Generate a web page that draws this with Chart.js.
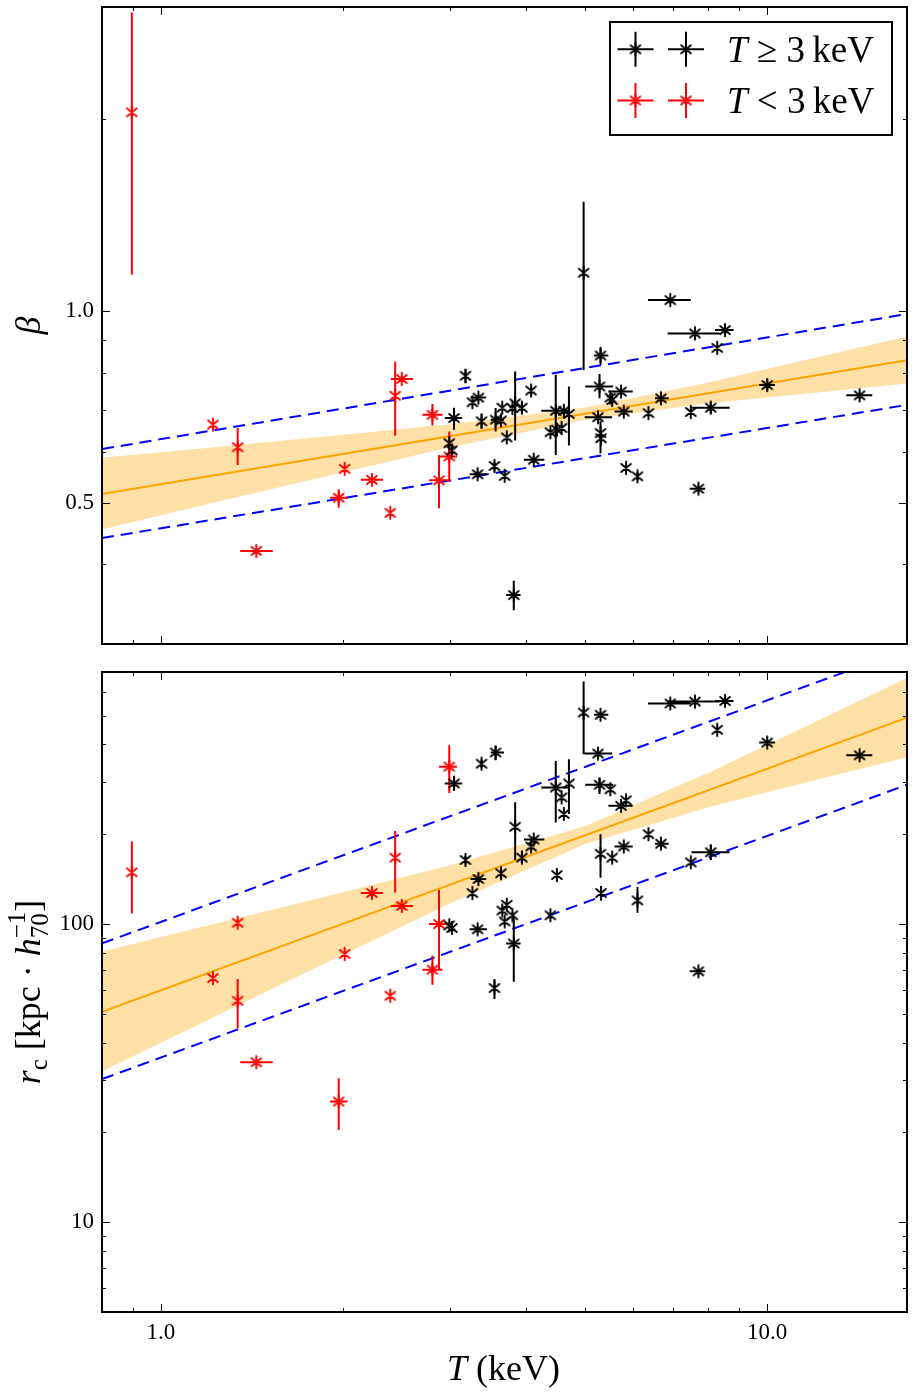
<!DOCTYPE html>
<html>
<head>
<meta charset="utf-8">
<script src="https://cdn.jsdelivr.net/npm/chart.js@4.4.0/dist/chart.umd.min.js"></script>
<style>
    html, body { margin: 0; padding: 0; background: #fff; }
    #wrap { position: relative; width: 914px; height: 1394px; }
    canvas { position: absolute; left: 0; }
</style>
</head>
<body>
<div id="wrap">
    <canvas id="beta" width="914" height="660" style="top:0"></canvas>
    <canvas id="rc" width="914" height="734" style="top:660px"></canvas>
</div>
<script>
"use strict";

// clusters with T >= 3 keV (black)
const hotT      = [3.045, 2.99, 3.02, 3.18, 3.265, 3.34, 3.38, 3.33, 3.55, 3.69,
                   3.565, 3.64, 3.656, 3.72, 3.80, 3.84, 3.94, 4.08, 4.12, 3.82,
                   4.48, 4.39, 4.50, 4.58, 4.62, 4.71, 4.98, 5.31, 5.29, 5.26,
                   5.31, 5.32, 5.51, 5.55, 5.74, 5.80, 6.37, 6.68, 5.85, 6.11,
                   7.48, 8.07, 7.70, 7.60, 8.52, 8.27, 10.0, 14.2, 6.92];
const hotTLo    = [2.94, null, null, null, null, 3.24, null, 3.23, null, null,
                   3.50, null, null, null, null, null, null, null, 3.97, 3.71,
                   4.24, null, null, null, null, null, null, 5.18, 5.01, 5.00,
                   null, null, null, null, 5.47, 5.60, null, 6.53, null, null,
                   null, 7.50, 7.45, 6.85, 8.20, null, 9.70, 13.5, 6.36];
const hotTHi    = [3.14, null, null, null, null, 3.44, null, 3.45, null, null,
                   3.68, null, null, null, null, null, null, null, 4.29, 3.92,
                   4.71, null, null, null, null, null, null, 5.47, 5.57, 5.55,
                   null, null, null, null, 6.00, 6.00, null, 6.88, null, null,
                   null, 8.67, 7.90, 8.35, 8.80, null, 10.3, 14.9, 7.48];
const hotBeta   = [0.679, 0.620, 0.604, 0.791, 0.719, 0.731, 0.671, 0.554, 0.571, 0.551,
                   0.675, 0.673, 0.705, 0.633, 0.704, 0.716, 0.705, 0.750, 0.584, 0.358,
                   0.697, 0.645, 0.651, 0.655, 0.697, 0.689, 1.148, 0.851, 0.761, 0.681,
                   0.643, 0.631, 0.731, 0.725, 0.747, 0.695, 0.691, 0.729, 0.567, 0.550,
                   0.694, 0.705, 0.526, 0.922, 0.933, 0.875, 0.765, 0.737, 1.04];
const hotBetaLo = [0.651, null, null, 0.77, null, null, 0.653, null, 0.560, null,
                   0.647, null, null, null, null, 0.626, 0.69, null, null, 0.339,
                   0.594, null, null, null, null, 0.615, 0.808, 0.823, 0.729, null,
                   0.598, null, null, null, null, null, null, null, null, 0.542,
                   null, 0.69, null, null, 0.916, null, 0.752, null, null];
const hotBetaHi = [0.705, null, null, 0.81, null, null, 0.690, null, 0.579, null,
                   0.704, null, null, null, null, 0.803, 0.72, null, null, 0.377,
                   0.794, null, null, null, null, 0.761, 1.484, 0.878, 0.796, null,
                   0.671, null, null, null, null, null, null, null, null, 0.558,
                   null, 0.72, null, null, 0.951, null, 0.779, null, null];
const hotRc     = [296, 99, 97, 164, 127, 141.5, 345, 96, 61, 102,
                   376, 148, 111, 116, 107, 212, 167, 182, 192, 86,
                   287, 107, 146, 266, 234, 296, 512, 503, 293, 373,
                   172, 127, 283, 167, 249, 182, 200, 186, 260, 120,
                   161, 174, 69.4, 557, 560, 448, 406, 368, 549];
const hotRcLo   = [280, null, null, 158, null, null, 333, null, 56, null,
                   354, 141.5, null, null, null, 164, 160, null, null, 64,
                   219, null, null, null, null, 234, 371, null, 273, null,
                   143, 120, null, null, null, null, null, null, null, 109,
                   null, 164, null, null, null, null, null, null, null];
const hotRcHi   = [314, null, null, 169, null, null, 357, null, 65.4, null,
                   396, 154.7, null, null, null, 256, 176, null, null, 107,
                   352, null, null, null, null, 357, 650, null, 310, null,
                   200, 134, null, null, null, null, null, null, null, 133,
                   null, 185, null, null, null, null, null, null, null];

// clusters with T < 3 keV (red)
const coolT      = [0.896, 1.219, 1.339, 1.339, 1.437, 2.01, 1.965, 2.229, 2.39, 2.435, 2.497, 2.805, 2.876, 2.99];
const coolTLo    = [null, null, null, null, 1.352, null, 1.902, 2.137, null, null, 2.397, 2.700, 2.77, 2.876];
const coolTHi    = [null, null, null, null, 1.530, null, 2.033, 2.325, null, null, 2.606, 2.914, 2.99, 3.08];
const coolBeta   = [2.05, 0.663, 0.611, null, 0.420, 0.565, 0.509, 0.543, 0.482, 0.736, 0.782, 0.687, 0.542, 0.591];
const coolBetaLo = [1.14, null, 0.573, null, null, null, 0.491, null, null, 0.637, null, 0.661, 0.490, 0.540];
const coolBetaHi = [2.94, null, 0.655, null, null, null, 0.525, null, null, 0.833, null, 0.714, 0.594, 0.647];
const coolRc     = [149, 65.9, 55.3, 101, 34.4, 79.4, 25.4, 127, 57.5, 167, 115, 70.3, 100, 337];
const coolRcLo   = [108.5, null, 44.8, null, null, null, 20.4, null, null, 127.6, null, 62.6, 70.7, 275];
const coolRcHi   = [189, null, 65.4, null, null, null, 30.4, null, null, 205, null, 78.3, 130, 398];

// best fit, intrinsic scatter and confidence band
const fitT        = [0.8, 17];
const betaFit     = [0.516, 0.837];
const betaScatHi  = [0.607, 0.989];
const betaScatLo  = [0.440, 0.712];
const rcFit       = [50.8, 492];
const rcScatHi    = [86.1, 834];
const rcScatLo    = [30.2, 293];
const bandT       = [0.8, 1.2, 2, 3, 5, 8, 12, 17];
const betaBandHi  = [0.588, 0.610, 0.639, 0.664, 0.705, 0.772, 0.844, 0.912];
const betaBandLo  = [0.454, 0.498, 0.558, 0.611, 0.675, 0.716, 0.744, 0.769];
const rcBandHi    = [80.8, 99.0, 127.9, 157.4, 212.9, 321.4, 476.1, 669.5];
const rcBandLo    = [32.0, 47.8, 79.0, 117.2, 185.2, 246.5, 303.8, 362.2];

// ticks
const xMajorTicks    = [1, 10];
const xTickLabels    = ["1.0", "10.0"];
const xMinorTicks    = [0.9, 2, 3, 4, 5, 6, 7, 8, 9];
const betaMajorTicks = [0.5, 1];
const betaTickLabels = ["0.5", "1.0"];
const betaMinorTicks = [0.4, 0.6, 0.7, 0.8, 0.9, 2];
const rcMajorTicks   = [10, 100];
const rcTickLabels   = ["10", "100"];
const rcMinorTicks   = [6, 7, 8, 9, 20, 30, 40, 50, 60, 70, 80, 90, 200, 300, 400, 500, 600];

const FONT = "'Liberation Serif', 'DejaVu Serif', serif";
const ORANGE = "#ffa500";

function asterisk (color) {
    const c = document.createElement("canvas"), g = c.getContext("2d");
    c.width = c.height = 16;
    g.strokeStyle = color;
    g.lineWidth = 1.9;
    g.lineCap = "round";
    g.beginPath();
    [90, 40, -40].forEach(a => {
        const dx = 6.3 * Math.cos(a * Math.PI / 180), dy = 6.3 * Math.sin(a * Math.PI / 180);
        g.moveTo(8 - dx, 8 + dy);
        g.lineTo(8 + dx, 8 - dy);
    });
    g.stroke();
    return c;
}

const STAR_BLACK = asterisk("#000"), STAR_RED = asterisk("#f00");

const points = (T, lo, hi, v, vLo, vHi) =>
    T.map((t, i) => ({x: t, y: v[i], xMin: lo[i], xMax: hi[i], yMin: vLo[i], yMax: vHi[i]}));

const line = (T, v) => T.map((t, i) => ({x: t, y: v[i]}));

function runsWidth (ctx, runs) {
    let w = 0;
    for (const r of runs) {
        ctx.font = r.font;
        w += r.adv ?? ctx.measureText(r.text).width;
    }
    return w;
}

function drawRuns (ctx, runs, x, y) {
    for (const r of runs) {
        ctx.font = r.font;
        ctx.fillText(r.text, x, y + (r.dy || 0));
        x += r.adv ?? ctx.measureText(r.text).width;
    }
}

const errorBars = {
    id: "errorBars",
    beforeDatasetDraw (chart, args) {
        const ds = chart.data.datasets[args.index];
        if (!ds.errorColor) return;

        const {ctx, chartArea: a, scales: {x, y}} = chart;

        ctx.save();
        ctx.beginPath();
        ctx.rect(a.left, a.top, a.width, a.height);
        ctx.clip();
        ctx.strokeStyle = ds.errorColor;
        ctx.lineWidth = 2;
        ctx.beginPath();
        for (const p of ds.data) {
            if (p.y == null) continue;
            const px = x.getPixelForValue(p.x), py = y.getPixelForValue(p.y);
            if (p.xMin != null) {
                ctx.moveTo(x.getPixelForValue(p.xMin), py);
                ctx.lineTo(x.getPixelForValue(p.xMax), py);
            }
            if (p.yMin != null) {
                ctx.moveTo(px, y.getPixelForValue(p.yMin));
                ctx.lineTo(px, y.getPixelForValue(p.yMax));
            }
        }
        ctx.stroke();
        ctx.restore();
    }
};

// classic style frame: ticks inside on all four sides
const frame = {
    id: "frame",
    afterDraw (chart, args, opts) {
        const {ctx, chartArea: a, scales: {x, y}} = chart;

        ctx.save();
        ctx.strokeStyle = "#000";
        ctx.lineWidth = 1;
        ctx.beginPath();
        const xt = (vals, len) => vals.forEach(v => {
            const p = Math.round(x.getPixelForValue(v)) + 0.5;
            ctx.moveTo(p, a.bottom); ctx.lineTo(p, a.bottom - len);
            ctx.moveTo(p, a.top); ctx.lineTo(p, a.top + len);
        });
        const yt = (vals, len) => vals.forEach(v => {
            const p = Math.round(y.getPixelForValue(v)) + 0.5;
            ctx.moveTo(a.left, p); ctx.lineTo(a.left + len, p);
            ctx.moveTo(a.right, p); ctx.lineTo(a.right - len, p);
        });
        xt(xMajorTicks, 8);
        xt(xMinorTicks, 4);
        yt(opts.major, 8);
        yt(opts.minor, 4);
        ctx.stroke();

        ctx.lineWidth = 2;
        ctx.strokeRect(a.left, a.top, a.width, a.height);
        ctx.restore();

        if (opts.decorate) opts.decorate(ctx, chart);
    }
};

function panel (canvas, cfg) {
    return new Chart(canvas, {
        type: "scatter",
        data: {
            datasets: [{
                data: points(hotT, hotTLo, hotTHi, cfg.hot, cfg.hotLo, cfg.hotHi),
                errorColor: "#000",
                pointStyle: STAR_BLACK,
                pointRadius: 6,
                order: 0
            }, {
                data: points(coolT, coolTLo, coolTHi, cfg.cool, cfg.coolLo, cfg.coolHi),
                errorColor: "#f00",
                pointStyle: STAR_RED,
                pointRadius: 6,
                order: 0
            }, {
                type: "line",
                data: line(fitT, cfg.fit),
                borderColor: ORANGE,
                borderWidth: 2,
                pointRadius: 0,
                order: 1
            }, {
                type: "line",
                data: line(fitT, cfg.scatHi),
                borderColor: "#0000ff",
                borderWidth: 2,
                borderDash: [12, 7],
                pointRadius: 0,
                order: 2
            }, {
                type: "line",
                data: line(fitT, cfg.scatLo),
                borderColor: "#0000ff",
                borderWidth: 2,
                borderDash: [12, 7],
                pointRadius: 0,
                order: 2
            }, {
                type: "line",
                data: line(bandT, cfg.bandHi),
                borderColor: "transparent",
                borderWidth: 0,
                pointRadius: 0,
                fill: "+1",
                backgroundColor: "rgba(255,165,0,0.35)",
                order: 3
            }, {
                type: "line",
                data: line(bandT, cfg.bandLo),
                borderColor: "transparent",
                borderWidth: 0,
                pointRadius: 0,
                fill: false,
                order: 3
            }]
        },
        options: {
            responsive: false,
            animation: false,
            events: [],
            layout: {padding: {top: cfg.padTop, right: 5, left: 0, bottom: 0}},
            plugins: {
                legend: {display: false},
                tooltip: {enabled: false},
                frame: {major: cfg.major, minor: cfg.minor, decorate: cfg.decorate}
            },
            scales: {
                x: {
                    type: "logarithmic",
                    min: 0.8,
                    max: 17,
                    grid: {display: false, drawTicks: false},
                    border: {display: false},
                    afterBuildTicks: s => { s.ticks = xMajorTicks.map(v => ({value: v})); },
                    ticks: {
                        display: cfg.xLabels,
                        autoSkip: false,
                        maxRotation: 0,
                        padding: 7,
                        color: "#000",
                        font: {family: FONT, size: 23},
                        callback: v => xTickLabels[xMajorTicks.indexOf(v)] ?? ""
                    },
                    afterFit: s => { s.height = cfg.xHeight; s.paddingLeft = 0; s.paddingRight = 0; }
                },
                y: {
                    type: "logarithmic",
                    min: cfg.yMin,
                    max: cfg.yMax,
                    grid: {display: false, drawTicks: false},
                    border: {display: false},
                    afterBuildTicks: s => { s.ticks = cfg.major.map(v => ({value: v})); },
                    ticks: {
                        autoSkip: false,
                        padding: 8,
                        color: "#000",
                        font: {family: FONT, size: 23},
                        callback: v => cfg.labels[cfg.major.indexOf(v)] ?? ""
                    },
                    afterFit: s => { s.width = 102; s.paddingTop = 0; s.paddingBottom = 0; }
                }
            }
        },
        plugins: [errorBars, frame]
    });
}

function legendEntry (ctx, star, color, cy, runs) {
    ctx.strokeStyle = color;
    ctx.lineWidth = 2;
    ctx.beginPath();
    [635.5, 686].forEach(cx => {
        ctx.moveTo(cx - 18, cy); ctx.lineTo(cx + 18, cy);
        ctx.moveTo(cx, cy - 17.5); ctx.lineTo(cx, cy + 17.5);
    });
    ctx.stroke();
    [635.5, 686].forEach(cx => ctx.drawImage(star, cx - 8, cy - 8));
    ctx.fillStyle = "#000";
    drawRuns(ctx, runs, 727, cy + 12.5);
}

panel(document.getElementById("beta"), {
    hot: hotBeta, hotLo: hotBetaLo, hotHi: hotBetaHi,
    cool: coolBeta, coolLo: coolBetaLo, coolHi: coolBetaHi,
    fit: betaFit, scatHi: betaScatHi, scatLo: betaScatLo,
    bandHi: betaBandHi, bandLo: betaBandLo,
    yMin: 0.3, yMax: 3,
    major: betaMajorTicks, minor: betaMinorTicks, labels: betaTickLabels,
    padTop: 5, xHeight: 16, xLabels: false,
    decorate (ctx, chart) {
        ctx.save();
        ctx.fillStyle = "#fff";
        ctx.fillRect(610, 22, 282, 113);
        ctx.strokeStyle = "#000";
        ctx.lineWidth = 2;
        ctx.strokeRect(610, 22, 282, 113);
        legendEntry(ctx, STAR_BLACK, "#000", 49.3, [
            {text: "T", font: `italic 37px ${FONT}`},
            {text: " \u2265 3\u2009keV", font: `37px ${FONT}`}
        ]);
        legendEntry(ctx, STAR_RED, "#f00", 100.5, [
            {text: "T", font: `italic 37px ${FONT}`},
            {text: " < 3\u2009keV", font: `37px ${FONT}`}
        ]);

        const a = chart.chartArea;
        ctx.translate(40, (a.top + a.bottom) / 2);
        ctx.rotate(-Math.PI / 2);
        ctx.fillStyle = "#000";
        ctx.textAlign = "center";
        ctx.font = `italic 36px ${FONT}`;
        ctx.fillText("\u03b2", 0, 0);
        ctx.restore();
    }
});

panel(document.getElementById("rc"), {
    hot: hotRc, hotLo: hotRcLo, hotHi: hotRcHi,
    cool: coolRc, coolLo: coolRcLo, coolHi: coolRcHi,
    fit: rcFit, scatHi: rcScatHi, scatLo: rcScatLo,
    bandHi: rcBandHi, bandLo: rcBandLo,
    yMin: 5, yMax: 700,
    major: rcMajorTicks, minor: rcMinorTicks, labels: rcTickLabels,
    padTop: 12, xHeight: 82, xLabels: true,
    decorate (ctx, chart) {
        const a = chart.chartArea;
        ctx.save();
        ctx.fillStyle = "#000";
        drawRuns(ctx, [
            {text: "T", font: `italic 36px ${FONT}`},
            {text: " (keV)", font: `36px ${FONT}`}
        ], 447, 720);

        const runs = [
            {text: "r", font: `italic 36px ${FONT}`},
            {text: "c", font: `25px ${FONT}`, dy: 7},
            {text: " [kpc \u00b7 ", font: `36px ${FONT}`},
            {text: "h", font: `italic 36px ${FONT}`},
            {text: "70", font: `25px ${FONT}`, dy: 8, adv: 0},
            {text: "\u22121", font: `25px ${FONT}`, dy: -15},
            {text: "]", font: `36px ${FONT}`}
        ];
        ctx.translate(40, (a.top + a.bottom) / 2);
        ctx.rotate(-Math.PI / 2);
        drawRuns(ctx, runs, -runsWidth(ctx, runs) / 2, 0);
        ctx.restore();
    }
});
</script>
</body>
</html>
